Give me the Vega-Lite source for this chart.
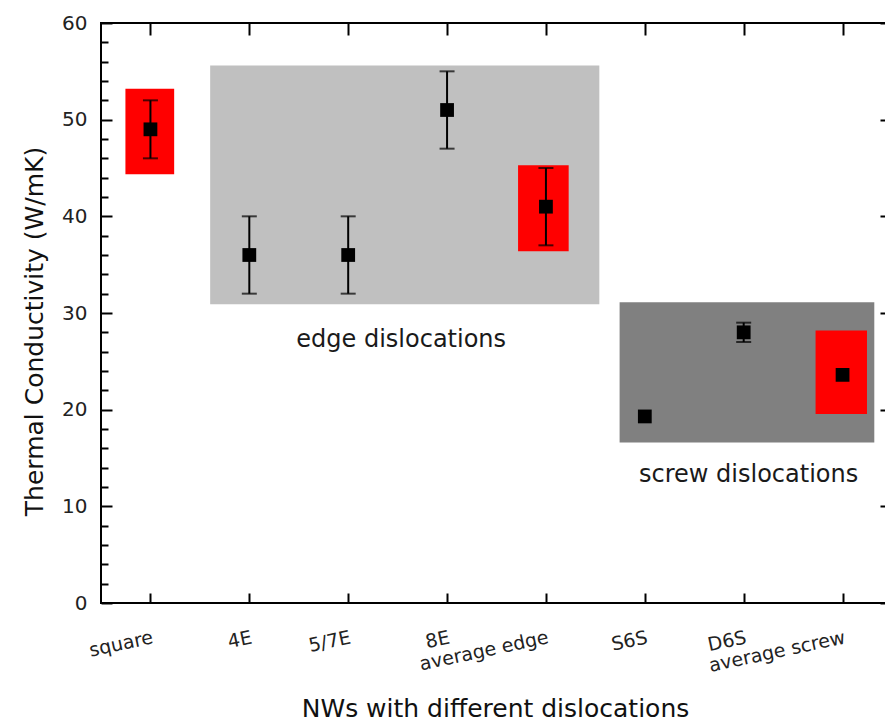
{
  "$schema": "https://vega.github.io/schema/vega-lite/v6.json",
  "autosize": {"type": "none"},
  "width": 791,
  "height": 580,
  "padding": {"left": 101, "top": 23, "right": -7, "bottom": 118},
  "background": "white",
  "config": {
    "view": {"stroke": "black", "strokeWidth": 2},
    "axis": {
      "grid": false,
      "domain": false,
      "tickColor": "black",
      "tickWidth": 2,
      "labelFont": "DejaVu Sans",
      "labelColor": "#222222",
      "titleFont": "DejaVu Sans",
      "titleColor": "#111111",
      "titleFontWeight": "normal",
      "labelFlush": false,
      "labelOverlap": false
    }
  },
  "datasets": {
    "boxes": [
      {"group": "edge", "x1": 1.604, "x2": 5.54, "y1": 30.9, "y2": 55.6},
      {"group": "screw", "x1": 5.745, "x2": 8.321, "y1": 16.6, "y2": 31.1},
      {"group": "average", "x1": 0.747, "x2": 1.24, "y1": 44.35, "y2": 53.2},
      {"group": "average", "x1": 4.718, "x2": 5.23, "y1": 36.4, "y2": 45.28},
      {"group": "average", "x1": 7.727, "x2": 8.247, "y1": 19.56, "y2": 28.2}
    ],
    "points": [
      {"pos": 1, "name": "square", "k": 49, "lo": 46, "hi": 52},
      {"pos": 2, "name": "4E", "k": 36, "lo": 32, "hi": 40},
      {"pos": 3, "name": "5/7E", "k": 36, "lo": 32, "hi": 40},
      {"pos": 4, "name": "8E", "k": 51, "lo": 47, "hi": 55},
      {"pos": 5, "name": "average edge", "k": 41, "lo": 37, "hi": 45},
      {"pos": 6, "name": "S6S", "k": 19.3, "lo": null, "hi": null},
      {"pos": 7, "name": "D6S", "k": 28, "lo": 27, "hi": 29},
      {"pos": 8, "name": "average screw", "k": 23.6, "lo": null, "hi": null}
    ],
    "notes": [
      {"x": 3.536, "y": 26.5, "text": "edge dislocations"},
      {"x": 7.05, "y": 12.56, "text": "screw dislocations"}
    ]
  },
  "resolve": {"axis": {"x": "independent", "y": "independent"}},
  "layer": [
    {
      "data": {"name": "boxes"},
      "mark": {"type": "rect"},
      "encoding": {
        "x": {
          "field": "x1", "type": "quantitative",
          "scale": {"domain": [0.5, 8.5], "nice": false, "zero": false},
          "axis": {
            "orient": "bottom",
            "values": [1, 2, 3, 4, 5, 6, 7, 8],
            "labelExpr": "['', 'square', '4E', '5/7E', '8E', 'average edge', 'S6S', 'D6S', 'average screw'][datum.value]",
            "labelAngle": -12,
            "labelAlign": "right",
            "labelBaseline": "top",
            "labelFontSize": 19,
            "ticks": false,
            "tickSize": 0,
            "labelPadding": 25,
            "title": "NWs with different dislocations",
            "titleFontSize": 25,
            "titleX": 394,
            "titleY": 113,
            "titleBaseline": "alphabetic"
          }
        },
        "x2": {"field": "x2"},
        "y": {
          "field": "y1", "type": "quantitative",
          "scale": {"domain": [0, 60], "nice": false, "zero": false},
          "axis": {
            "orient": "left",
            "values": [0, 10, 20, 30, 40, 50, 60],
            "ticks": false,
            "tickSize": 0,
            "labelPadding": 14,
            "labelFontSize": 20,
            "title": "Thermal Conductivity (W/mK)",
            "titleFontSize": 25,
            "titleAngle": -90,
            "titleX": -59,
            "titleY": 308,
            "titleBaseline": "alphabetic"
          }
        },
        "y2": {"field": "y2"},
        "color": {
          "field": "group", "type": "nominal",
          "scale": {"domain": ["edge", "screw", "average"], "range": ["#c0c0c0", "#808080", "#ff0000"]},
          "legend": null
        }
      }
    },
    {
      "data": {"name": "points"},
      "transform": [{"filter": "isValid(datum.lo)"}],
      "mark": {"type": "rule", "color": "black", "strokeWidth": 2},
      "encoding": {
        "x": {
          "field": "pos", "type": "quantitative",
          "axis": {"orient": "bottom", "values": [1, 2, 3, 4, 5, 6, 7, 8], "labels": false, "offset": -10, "tickSize": 10, "title": null}
        },
        "y": {
          "field": "lo", "type": "quantitative",
          "axis": {"orient": "left", "values": [0, 10, 20, 30, 40, 50, 60], "labels": false, "offset": -11, "tickSize": 11, "title": null}
        },
        "y2": {"field": "hi"}
      }
    },
    {
      "data": {"name": "points"},
      "transform": [{"filter": "isValid(datum.lo)"}],
      "mark": {"type": "tick", "orient": "horizontal", "color": "black", "size": 15, "thickness": 2},
      "encoding": {
        "x": {
          "field": "pos", "type": "quantitative",
          "axis": {"orient": "top", "values": [1, 2, 3, 4, 5, 6, 7, 8], "labels": false, "offset": -12, "tickSize": 12, "title": null}
        },
        "y": {
          "field": "lo", "type": "quantitative",
          "axis": {"orient": "left", "values": [2, 4, 6, 8, 12, 14, 16, 18, 22, 24, 26, 28, 32, 34, 36, 38, 42, 44, 46, 48, 52, 54, 56, 58], "labels": false, "offset": -7, "tickSize": 7, "title": null}
        }
      }
    },
    {
      "data": {"name": "points"},
      "transform": [{"filter": "isValid(datum.hi)"}],
      "mark": {"type": "tick", "orient": "horizontal", "color": "black", "size": 15, "thickness": 2},
      "encoding": {
        "x": {"field": "pos", "type": "quantitative", "axis": null},
        "y": {
          "field": "hi", "type": "quantitative",
          "axis": {"orient": "right", "values": [0, 10, 20, 30, 40, 50, 60], "labels": false, "offset": -12, "tickSize": 12, "title": null}
        }
      }
    },
    {
      "data": {"name": "points"},
      "mark": {"type": "point", "shape": "square", "filled": true, "color": "black", "opacity": 1, "size": 190},
      "encoding": {
        "x": {"field": "pos", "type": "quantitative", "axis": null},
        "y": {
          "field": "k", "type": "quantitative",
          "axis": {"orient": "right", "values": [2, 4, 6, 8, 12, 14, 16, 18, 22, 24, 26, 28, 32, 34, 36, 38, 42, 44, 46, 48, 52, 54, 56, 58], "labels": false, "offset": -7, "tickSize": 7, "title": null}
        }
      }
    },
    {
      "data": {"name": "notes"},
      "mark": {"type": "text", "font": "DejaVu Sans", "fontSize": 24, "color": "#1a1a1a", "align": "center", "baseline": "alphabetic"},
      "encoding": {
        "x": {"field": "x", "type": "quantitative", "axis": null},
        "y": {"field": "y", "type": "quantitative", "axis": null},
        "text": {"field": "text"}
      }
    }
  ]
}
